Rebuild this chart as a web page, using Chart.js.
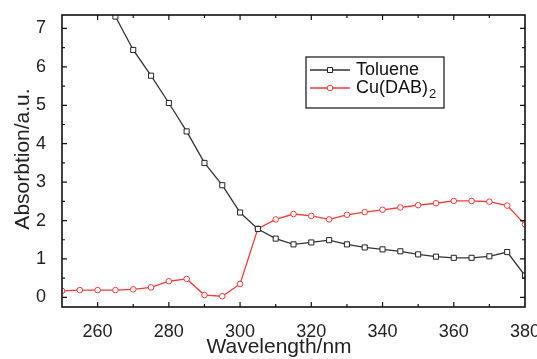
<!DOCTYPE html>
<html>
<head>
<meta charset="utf-8">
<script src="https://cdn.jsdelivr.net/npm/chart.js@4/dist/chart.umd.min.js"></script>
<style>
  html, body { margin: 0; padding: 0; background: #fff; }
  #wrap { width: 537px; height: 359px; }
</style>
</head>
<body>
<div id="wrap"><canvas id="c" width="537" height="359"></canvas></div>
<script>
// Absorption spectra, wavelength in nm
const tolueneWavelengths = [265, 270, 275, 280, 285, 290, 295, 300, 305, 310, 315, 320, 325, 330, 335, 340, 345, 350, 355, 360, 365, 370, 375, 380];
const tolueneAbsorption  = [7.31, 6.44, 5.77, 5.06, 4.32, 3.50, 2.92, 2.21, 1.78, 1.53, 1.38, 1.43, 1.49, 1.38, 1.30, 1.25, 1.20, 1.12, 1.06, 1.03, 1.03, 1.07, 1.18, 0.57];

const cuWavelengths = [250, 255, 260, 265, 270, 275, 280, 285, 290, 295, 300, 305, 310, 315, 320, 325, 330, 335, 340, 345, 350, 355, 360, 365, 370, 375, 380];
const cuAbsorption  = [0.17, 0.19, 0.19, 0.19, 0.21, 0.26, 0.42, 0.48, 0.06, 0.03, 0.35, 1.79, 2.03, 2.17, 2.12, 2.03, 2.15, 2.22, 2.28, 2.34, 2.40, 2.45, 2.51, 2.51, 2.49, 2.39, 1.90];

const xTickValues = [260, 280, 300, 320, 340, 360, 380];
const yTickValues = [0, 1, 2, 3, 4, 5, 6, 7];

const seriesNames = [{ text: 'Toluene' }, { text: 'Cu(DAB)', sub: '2' }];
const xTitle = 'Wavelength/nm';
const yTitle = 'Absorbtion/a.u.';

const FONT = '"Liberation Sans", Arial, Helvetica, sans-serif';
const BLACK = '#333333';
const RED = '#f03a3a';

function toPoints(xs, ys) { return xs.map((x, i) => ({ x: x, y: ys[i] })); }

// Box frame with inward major/minor ticks on all four sides
const framePlugin = {
  id: 'frame',
  afterDatasetsDraw(chart) {
    const { ctx, chartArea: a, scales: { x, y } } = chart;
    ctx.save();
    ctx.strokeStyle = '#111';
    ctx.lineWidth = 1.6;
    ctx.strokeRect(a.left, a.top, a.right - a.left, a.bottom - a.top);
    ctx.lineWidth = 1.2;
    ctx.beginPath();
    for (let v = 250; v <= 380; v += 10) {
      const px = x.getPixelForValue(v);
      if (px <= a.left + 1 || px >= a.right - 1) continue;
      const len = (v % 20 === 0) ? 5 : 3;
      ctx.moveTo(px, a.bottom); ctx.lineTo(px, a.bottom - len);
      ctx.moveTo(px, a.top); ctx.lineTo(px, a.top + len);
    }
    for (let v = 0; v <= 7; v += 0.5) {
      const py = y.getPixelForValue(v);
      const len = Number.isInteger(v) ? 5 : 3;
      ctx.moveTo(a.left, py); ctx.lineTo(a.left + len, py);
      ctx.moveTo(a.right, py); ctx.lineTo(a.right - len, py);
    }
    ctx.stroke();
    ctx.restore();
  }
};

// Axis titles
const titlePlugin = {
  id: 'axisTitles',
  afterDraw(chart) {
    const { ctx } = chart;
    ctx.save();
    ctx.fillStyle = '#222';
    ctx.font = '21px ' + FONT;
    ctx.textAlign = 'center';
    ctx.textBaseline = 'middle';
    ctx.fillText(xTitle, 279, 347.5);
    ctx.translate(23, 159);
    ctx.rotate(-Math.PI / 2);
    ctx.fillText(yTitle, 0, 0);
    ctx.restore();
  }
};

// Boxed legend with line + marker samples and subscripted names
const legendPlugin = {
  id: 'boxLegend',
  afterDraw(chart) {
    const { ctx } = chart;
    const bx = 306, by = 57, bw = 138, bh = 51;
    ctx.save();
    ctx.fillStyle = '#fff';
    ctx.fillRect(bx, by, bw, bh);
    ctx.strokeStyle = '#111';
    ctx.lineWidth = 1.2;
    ctx.strokeRect(bx, by, bw, bh);
    const rows = [70, 88];
    chart.data.datasets.forEach((ds, i) => {
      const cy = rows[i];
      ctx.strokeStyle = ds.borderColor;
      ctx.lineWidth = ds.borderWidth;
      ctx.beginPath();
      ctx.moveTo(310, cy); ctx.lineTo(350, cy);
      ctx.stroke();
      ctx.strokeStyle = ds.pointBorderColor;
      ctx.fillStyle = '#fff';
      ctx.lineWidth = 1;
      ctx.beginPath();
      if (ds.pointStyle === 'rect') {
        const s = ds.pointRadius * Math.SQRT1_2;
        ctx.rect(330 - s, cy - s, 2 * s, 2 * s);
      } else {
        ctx.arc(330, cy, ds.pointRadius, 0, Math.PI * 2);
      }
      ctx.fill();
      ctx.stroke();
      const name = seriesNames[i];
      ctx.fillStyle = '#111';
      ctx.font = '18px ' + FONT;
      ctx.textAlign = 'left';
      ctx.textBaseline = 'middle';
      ctx.fillText(name.text, 356, cy);
      if (name.sub) {
        const w = ctx.measureText(name.text).width;
        ctx.font = '13px ' + FONT;
        ctx.fillText(name.sub, 356 + w + 1, cy + 6);
      }
    });
    ctx.restore();
  }
};

new Chart(document.getElementById('c'), {
  type: 'line',
  data: {
    datasets: [
      {
        label: 'Toluene',
        data: toPoints(tolueneWavelengths, tolueneAbsorption),
        borderColor: BLACK,
        borderWidth: 1.3,
        pointStyle: 'rect',
        pointRadius: 3.6,
        pointBorderWidth: 1,
        pointBackgroundColor: '#fff',
        pointBorderColor: '#222',
        tension: 0
      },
      {
        label: 'Cu(DAB)2',
        data: toPoints(cuWavelengths, cuAbsorption),
        borderColor: RED,
        borderWidth: 1.3,
        pointStyle: 'circle',
        pointRadius: 2.8,
        pointBorderWidth: 1,
        pointBackgroundColor: '#fff',
        pointBorderColor: RED,
        tension: 0
      }
    ]
  },
  options: {
    responsive: false,
    animation: false,
    layout: { padding: { top: 15, right: 12, left: 0, bottom: 0 } },
    plugins: { legend: { display: false }, tooltip: { enabled: false } },
    scales: {
      x: {
        type: 'linear',
        min: 250,
        max: 380,
        afterBuildTicks(scale) { scale.ticks = xTickValues.map(v => ({ value: v })); },
        afterFit(scale) { scale.height = 52; scale.paddingLeft = 0; scale.paddingRight = 0; },
        grid: { display: false },
        border: { display: false },
        ticks: {
          color: '#222',
          font: { family: FONT, size: 18 },
          padding: 6,
          maxRotation: 0,
          autoSkip: false
        }
      },
      y: {
        type: 'linear',
        min: -0.25,
        max: 7.35,
        afterBuildTicks(scale) { scale.ticks = yTickValues.map(v => ({ value: v })); },
        afterFit(scale) { scale.width = 62; scale.paddingTop = 0; scale.paddingBottom = 0; },
        grid: { display: false },
        border: { display: false },
        ticks: {
          color: '#222',
          font: { family: FONT, size: 18 },
          padding: 8
        }
      }
    }
  },
  plugins: [framePlugin, titlePlugin, legendPlugin]
});
</script>
</body>
</html>
